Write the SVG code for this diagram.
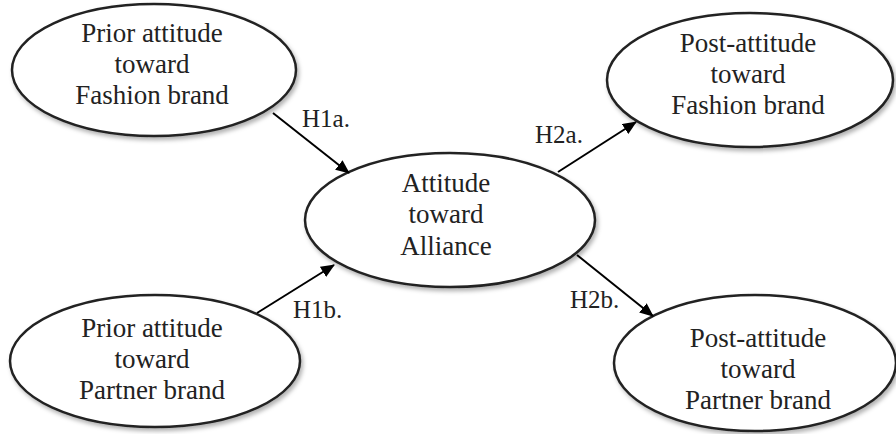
<svg xmlns="http://www.w3.org/2000/svg" width="896" height="434" viewBox="0 0 896 434">
<defs>
<filter id="sh" x="-10%" y="-10%" width="125%" height="130%">
<feDropShadow dx="2" dy="3" stdDeviation="2" flood-color="#000" flood-opacity="0.3"/>
</filter>
<marker id="arr" markerWidth="14" markerHeight="12" refX="13" refY="6" orient="auto" markerUnits="userSpaceOnUse">
<path d="M0,0 L14,6 L0,12 Z" fill="#000"/>
</marker>
<style>
.node ellipse{fill:#fff;stroke:#222;stroke-width:2.5;filter:url(#sh)}
.node text,.lbl{font-family:"Liberation Serif","Times New Roman",serif;font-size:27px;fill:#222;text-anchor:middle}
.lbl{font-size:25px;text-anchor:start}
.conn line{stroke:#000;stroke-width:2;marker-end:url(#arr)}
</style>
</defs>
<rect width="896" height="434" fill="#fff"/>
<g id="n-prior-fashion" class="node">
<ellipse cx="154" cy="70" rx="142" ry="66"/>
<text x="152" y="42">Prior attitude</text>
<text x="152" y="73">toward</text>
<text x="152" y="104">Fashion brand</text>
</g>
<g id="n-alliance" class="node">
<ellipse cx="450" cy="220" rx="145" ry="67"/>
<text x="446" y="192">Attitude</text>
<text x="446" y="223">toward</text>
<text x="446" y="255">Alliance</text>
</g>
<g id="n-post-fashion" class="node">
<ellipse cx="750" cy="80" rx="143" ry="67"/>
<text x="748" y="52">Post-attitude</text>
<text x="748" y="83">toward</text>
<text x="748" y="114">Fashion brand</text>
</g>
<g id="n-prior-partner" class="node">
<ellipse cx="155" cy="361" rx="145" ry="66"/>
<text x="152" y="337">Prior attitude</text>
<text x="152" y="368">toward</text>
<text x="152" y="399">Partner brand</text>
</g>
<g id="n-post-partner" class="node">
<ellipse cx="755" cy="363" rx="141" ry="68"/>
<text x="758" y="347">Post-attitude</text>
<text x="758" y="378">toward</text>
<text x="758" y="409">Partner brand</text>
</g>
<g id="connectors" class="conn">
<line x1="273" y1="113" x2="349" y2="173"/>
<line x1="257" y1="313" x2="334" y2="265"/>
<line x1="558" y1="172" x2="636" y2="122"/>
<line x1="577" y1="255" x2="653" y2="316"/>
</g>
<g id="labels">
<text class="lbl" x="302" y="127">H1a.</text>
<text class="lbl" x="535" y="143">H2a.</text>
<text class="lbl" x="293" y="318">H1b.</text>
<text class="lbl" x="570" y="308">H2b.</text>
</g>
</svg>
